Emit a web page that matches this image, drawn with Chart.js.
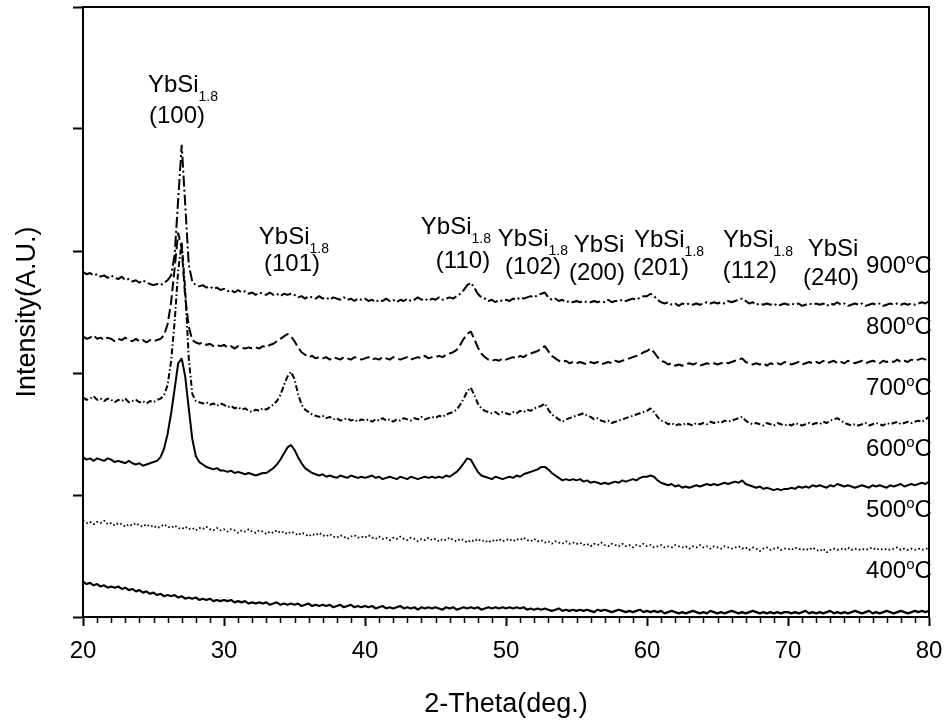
<!DOCTYPE html>
<html>
<head>
<meta charset="utf-8">
<script src="https://cdn.jsdelivr.net/npm/chart.js@4.4.1/dist/chart.umd.min.js"></script>
<style>
  html, body { margin: 0; padding: 0; background: #fff; }
  #xrd { display: block; }
</style>
</head>
<body>
<canvas id="xrd" width="946" height="725"></canvas>
<script>
// 2-theta scan grid, 0.25 deg steps from 20 to 80
const twoTheta = [];
for (let i = 0; i <= 240; i++) twoTheta.push(20 + i * 0.25);

// stacked intensities (arbitrary units, already offset per anneal temperature)
const scan900 = [
  2.83, 2.81, 2.82, 2.80, 2.81, 2.79, 2.80, 2.78, 2.80, 2.78, 2.77, 2.79, 2.76, 2.77, 2.75, 2.76, 2.74, 2.76, 2.74, 2.73,
  2.72, 2.73, 2.72, 2.74, 2.76, 2.80, 2.97, 3.42, 3.87, 3.38, 2.89, 2.75, 2.72, 2.71, 2.72, 2.70, 2.71, 2.69, 2.70, 2.68,
  2.69, 2.67, 2.68, 2.66, 2.68, 2.66, 2.67, 2.65, 2.66, 2.64, 2.66, 2.65, 2.64, 2.66, 2.64, 2.65, 2.63, 2.65, 2.64, 2.65,
  2.64, 2.62, 2.63, 2.61, 2.63, 2.62, 2.61, 2.63, 2.61, 2.62, 2.60, 2.62, 2.61, 2.60, 2.62, 2.60, 2.61, 2.59, 2.61, 2.60,
  2.61, 2.59, 2.60, 2.58, 2.60, 2.59, 2.61, 2.59, 2.60, 2.58, 2.60, 2.59, 2.61, 2.59, 2.60, 2.62, 2.60, 2.61, 2.59, 2.61,
  2.60, 2.62, 2.60, 2.61, 2.62, 2.61, 2.63, 2.65, 2.68, 2.72, 2.74, 2.70, 2.65, 2.62, 2.61, 2.59, 2.60, 2.58, 2.60, 2.59,
  2.60, 2.59, 2.61, 2.60, 2.62, 2.61, 2.62, 2.63, 2.62, 2.64, 2.65, 2.66, 2.62, 2.60, 2.61, 2.59, 2.60, 2.58, 2.59, 2.58,
  2.59, 2.58, 2.59, 2.58, 2.58, 2.59, 2.58, 2.59, 2.58, 2.60, 2.58, 2.59, 2.59, 2.60, 2.59, 2.60, 2.61, 2.60, 2.62, 2.63,
  2.63, 2.65, 2.63, 2.60, 2.58, 2.57, 2.58, 2.56, 2.57, 2.55, 2.57, 2.56, 2.57, 2.56, 2.57, 2.56, 2.57, 2.58, 2.57, 2.58,
  2.57, 2.58, 2.57, 2.59, 2.58, 2.59, 2.60, 2.61, 2.59, 2.57, 2.58, 2.56, 2.57, 2.56, 2.57, 2.56, 2.57, 2.55, 2.56, 2.57,
  2.56, 2.57, 2.56, 2.57, 2.55, 2.56, 2.57, 2.56, 2.57, 2.56, 2.57, 2.55, 2.57, 2.56, 2.58, 2.56, 2.57, 2.55, 2.56, 2.57,
  2.56, 2.57, 2.55, 2.56, 2.57, 2.56, 2.57, 2.55, 2.56, 2.57, 2.56, 2.57, 2.56, 2.57, 2.56, 2.57, 2.56, 2.57, 2.58, 2.57,
  2.59
];
const scan800 = [
  2.30, 2.28, 2.29, 2.31, 2.28, 2.29, 2.27, 2.29, 2.28, 2.26, 2.28, 2.27, 2.29, 2.27, 2.26, 2.28, 2.26, 2.27, 2.25, 2.27,
  2.26, 2.27, 2.28, 2.31, 2.40, 2.58, 2.86, 3.15, 3.02, 2.62, 2.38, 2.27, 2.25, 2.24, 2.25, 2.23, 2.24, 2.22, 2.23, 2.22,
  2.23, 2.21, 2.22, 2.20, 2.22, 2.21, 2.20, 2.21, 2.20, 2.21, 2.20, 2.22, 2.21, 2.23, 2.24, 2.26, 2.28, 2.30, 2.32, 2.30,
  2.26, 2.21, 2.17, 2.15, 2.13, 2.14, 2.12, 2.13, 2.12, 2.13, 2.11, 2.13, 2.12, 2.11, 2.13, 2.12, 2.11, 2.13, 2.12, 2.11,
  2.12, 2.13, 2.11, 2.12, 2.11, 2.13, 2.12, 2.11, 2.13, 2.12, 2.11, 2.12, 2.13, 2.11, 2.12, 2.13, 2.12, 2.14, 2.12, 2.13,
  2.13, 2.14, 2.13, 2.15, 2.16, 2.17, 2.19, 2.23, 2.28, 2.32, 2.34, 2.28, 2.21, 2.16, 2.13, 2.11, 2.10, 2.11, 2.10, 2.12,
  2.11, 2.12, 2.13, 2.12, 2.14, 2.13, 2.15, 2.16, 2.17, 2.18, 2.20, 2.22, 2.18, 2.14, 2.12, 2.10, 2.09, 2.10, 2.08, 2.09,
  2.08, 2.09, 2.08, 2.07, 2.09, 2.08, 2.09, 2.07, 2.08, 2.09, 2.08, 2.10, 2.09, 2.10, 2.11, 2.12, 2.13, 2.14, 2.15, 2.17,
  2.18, 2.20, 2.17, 2.13, 2.10, 2.09, 2.07, 2.08, 2.06, 2.07, 2.06, 2.07, 2.08, 2.07, 2.08, 2.06, 2.07, 2.08, 2.07, 2.08,
  2.07, 2.08, 2.09, 2.08, 2.09, 2.10, 2.11, 2.12, 2.09, 2.08, 2.07, 2.08, 2.07, 2.08, 2.06, 2.08, 2.07, 2.08, 2.07, 2.09,
  2.08, 2.07, 2.08, 2.09, 2.07, 2.08, 2.09, 2.08, 2.09, 2.08, 2.10, 2.08, 2.09, 2.10, 2.08, 2.09, 2.08, 2.10, 2.09, 2.08,
  2.09, 2.10, 2.08, 2.09, 2.10, 2.09, 2.08, 2.10, 2.09, 2.10, 2.09, 2.11, 2.09, 2.10, 2.09, 2.11, 2.10, 2.11, 2.12, 2.11,
  2.14
];
const scan700 = [
  1.80, 1.78, 1.79, 1.81, 1.78, 1.79, 1.77, 1.79, 1.78, 1.76, 1.78, 1.77, 1.79, 1.76, 1.77, 1.78, 1.76, 1.77, 1.75, 1.77,
  1.76, 1.78, 1.79, 1.82, 1.90, 2.10, 2.42, 2.84, 3.07, 2.68, 2.12, 1.83, 1.77, 1.76, 1.75, 1.76, 1.74, 1.75, 1.73, 1.75,
  1.74, 1.72, 1.73, 1.71, 1.72, 1.70, 1.71, 1.69, 1.68, 1.70, 1.69, 1.71, 1.70, 1.72, 1.74, 1.77, 1.82, 1.90, 1.97, 2.01,
  1.95, 1.83, 1.74, 1.70, 1.68, 1.66, 1.65, 1.64, 1.65, 1.63, 1.64, 1.62, 1.63, 1.61, 1.62, 1.63, 1.61, 1.62, 1.60, 1.62,
  1.61, 1.62, 1.60, 1.62, 1.61, 1.63, 1.61, 1.62, 1.60, 1.62, 1.61, 1.63, 1.62, 1.61, 1.63, 1.62, 1.64, 1.62, 1.63, 1.64,
  1.63, 1.65, 1.64, 1.66, 1.67, 1.68, 1.70, 1.74, 1.79, 1.85, 1.88, 1.82, 1.75, 1.71, 1.69, 1.68, 1.67, 1.68, 1.66, 1.68,
  1.67, 1.66, 1.68, 1.67, 1.69, 1.68, 1.70, 1.69, 1.71, 1.72, 1.73, 1.75, 1.70, 1.66, 1.64, 1.62, 1.60, 1.62, 1.63, 1.64,
  1.65, 1.66, 1.67, 1.65, 1.64, 1.62, 1.63, 1.61, 1.60, 1.61, 1.59, 1.60, 1.61, 1.62, 1.63, 1.64, 1.65, 1.66, 1.67, 1.68,
  1.69, 1.71, 1.68, 1.64, 1.61, 1.60, 1.58, 1.59, 1.57, 1.58, 1.57, 1.59, 1.58, 1.57, 1.59, 1.58, 1.59, 1.58, 1.60, 1.59,
  1.60, 1.59, 1.61, 1.60, 1.61, 1.62, 1.63, 1.64, 1.61, 1.59, 1.58, 1.59, 1.58, 1.57, 1.59, 1.58, 1.57, 1.59, 1.58, 1.57,
  1.58, 1.57, 1.59, 1.58, 1.57, 1.58, 1.59, 1.58, 1.59, 1.58, 1.60, 1.59, 1.61, 1.62, 1.63, 1.61, 1.59, 1.58, 1.57, 1.58,
  1.57, 1.58, 1.59, 1.57, 1.58, 1.59, 1.58, 1.57, 1.59, 1.58, 1.59, 1.60, 1.58, 1.59, 1.60, 1.59, 1.60, 1.61, 1.60, 1.62,
  1.64
];
const scan600 = [
  1.31, 1.29, 1.30, 1.28, 1.30, 1.29, 1.28, 1.30, 1.29, 1.27, 1.28, 1.27, 1.26, 1.28, 1.26, 1.25, 1.26, 1.24, 1.25, 1.26,
  1.27, 1.28, 1.31, 1.38, 1.50, 1.67, 1.87, 2.08, 2.12, 1.97, 1.71, 1.46, 1.32, 1.27, 1.25, 1.23, 1.22, 1.21, 1.22, 1.20,
  1.20, 1.19, 1.20, 1.18, 1.19, 1.18, 1.17, 1.18, 1.17, 1.16, 1.17, 1.18, 1.18, 1.20, 1.22, 1.25, 1.29, 1.34, 1.39, 1.41,
  1.37, 1.31, 1.26, 1.22, 1.20, 1.18, 1.17, 1.16, 1.17, 1.15, 1.16, 1.15, 1.14, 1.16, 1.15, 1.14, 1.16, 1.15, 1.14, 1.15,
  1.14, 1.15, 1.16, 1.14, 1.15, 1.13, 1.14, 1.15, 1.14, 1.13, 1.15, 1.14, 1.13, 1.15, 1.14, 1.13, 1.14, 1.15, 1.14, 1.15,
  1.14, 1.15, 1.14, 1.16, 1.15, 1.17, 1.19, 1.22, 1.26, 1.30, 1.29, 1.24, 1.19, 1.16, 1.15, 1.14, 1.13, 1.15, 1.14, 1.13,
  1.14, 1.15, 1.14, 1.16, 1.15, 1.17, 1.18, 1.19, 1.20, 1.21, 1.23, 1.23, 1.21, 1.18, 1.16, 1.14, 1.12, 1.13, 1.12, 1.13,
  1.12, 1.13, 1.11, 1.12, 1.10, 1.11, 1.10, 1.09, 1.10, 1.09, 1.10, 1.11, 1.10, 1.12, 1.11, 1.12, 1.13, 1.12, 1.14, 1.15,
  1.15, 1.16, 1.15, 1.12, 1.10, 1.09, 1.08, 1.09, 1.07, 1.08, 1.06, 1.07, 1.06, 1.07, 1.08, 1.07, 1.08, 1.09, 1.08, 1.09,
  1.08, 1.09, 1.10, 1.09, 1.10, 1.11, 1.10, 1.12, 1.09, 1.08, 1.07, 1.06, 1.07, 1.05, 1.06, 1.05, 1.04, 1.05, 1.04, 1.05,
  1.05, 1.06, 1.05, 1.07, 1.06, 1.07, 1.06, 1.08, 1.07, 1.08, 1.07, 1.06, 1.08, 1.07, 1.09, 1.08, 1.07, 1.08, 1.07, 1.06,
  1.07, 1.08, 1.07, 1.06, 1.08, 1.07, 1.08, 1.07, 1.06, 1.08, 1.07, 1.08, 1.09, 1.07, 1.08, 1.09, 1.08, 1.09, 1.10, 1.09,
  1.11
];
const scan500 = [
  0.79, 0.77, 0.78, 0.76, 0.78, 0.77, 0.79, 0.76, 0.77, 0.75, 0.77, 0.76, 0.74, 0.76, 0.75, 0.77, 0.75, 0.74, 0.76, 0.74,
  0.75, 0.73, 0.74, 0.76, 0.74, 0.73, 0.75, 0.73, 0.72, 0.74, 0.72, 0.73, 0.71, 0.73, 0.72, 0.74, 0.72, 0.71, 0.73, 0.71,
  0.72, 0.70, 0.72, 0.71, 0.69, 0.71, 0.70, 0.72, 0.70, 0.69, 0.71, 0.70, 0.68, 0.70, 0.69, 0.71, 0.69, 0.70, 0.68, 0.70,
  0.69, 0.67, 0.69, 0.68, 0.66, 0.68, 0.67, 0.69, 0.67, 0.66, 0.68, 0.66, 0.65, 0.67, 0.66, 0.64, 0.66, 0.67, 0.65, 0.66,
  0.65, 0.67, 0.65, 0.64, 0.66, 0.64, 0.65, 0.63, 0.65, 0.64, 0.66, 0.64, 0.63, 0.65, 0.64, 0.62, 0.64, 0.63, 0.65, 0.63,
  0.64, 0.62, 0.64, 0.63, 0.65, 0.63, 0.62, 0.64, 0.63, 0.61, 0.63, 0.62, 0.64, 0.62, 0.63, 0.61, 0.63, 0.62, 0.64, 0.62,
  0.63, 0.64, 0.62, 0.64, 0.63, 0.65, 0.63, 0.62, 0.64, 0.62, 0.63, 0.61, 0.62, 0.60, 0.62, 0.61, 0.60, 0.62, 0.60, 0.61,
  0.60, 0.61, 0.59, 0.60, 0.58, 0.60, 0.59, 0.61, 0.59, 0.58, 0.60, 0.59, 0.58, 0.60, 0.58, 0.59, 0.57, 0.59, 0.58, 0.60,
  0.58, 0.59, 0.57, 0.58, 0.59, 0.57, 0.58, 0.57, 0.59, 0.58, 0.57, 0.58, 0.56, 0.58, 0.57, 0.59, 0.57, 0.58, 0.56, 0.58,
  0.57, 0.56, 0.58, 0.57, 0.56, 0.57, 0.58, 0.56, 0.57, 0.55, 0.57, 0.56, 0.54, 0.56, 0.57, 0.55, 0.56, 0.57, 0.55, 0.56,
  0.56, 0.55, 0.57, 0.56, 0.55, 0.56, 0.55, 0.57, 0.55, 0.54, 0.56, 0.53, 0.55, 0.56, 0.55, 0.56, 0.55, 0.57, 0.55, 0.56,
  0.55, 0.56, 0.55, 0.56, 0.57, 0.55, 0.56, 0.55, 0.56, 0.55, 0.56, 0.57, 0.55, 0.56, 0.55, 0.56, 0.55, 0.56, 0.55, 0.56,
  0.56
];
const scan400 = [
  0.29, 0.27, 0.28, 0.26, 0.27, 0.25, 0.26, 0.24, 0.25, 0.24, 0.25, 0.23, 0.24, 0.22, 0.23, 0.21, 0.22, 0.20, 0.21, 0.19,
  0.20, 0.18, 0.19, 0.17, 0.18, 0.17, 0.18, 0.16, 0.17, 0.15, 0.16, 0.15, 0.16, 0.14, 0.15, 0.14, 0.15, 0.13, 0.14, 0.13,
  0.14, 0.13, 0.14, 0.12, 0.13, 0.12, 0.13, 0.11, 0.12, 0.11, 0.12, 0.11, 0.12, 0.10, 0.11, 0.12, 0.10, 0.11, 0.10, 0.11,
  0.10, 0.11, 0.09, 0.10, 0.11, 0.09, 0.10, 0.09, 0.10, 0.09, 0.10, 0.08, 0.09, 0.10, 0.08, 0.09, 0.10, 0.08, 0.09, 0.08,
  0.09, 0.08, 0.09, 0.07, 0.08, 0.09, 0.07, 0.08, 0.07, 0.08, 0.09, 0.07, 0.08, 0.07, 0.08, 0.06, 0.08, 0.07, 0.08, 0.07,
  0.08, 0.07, 0.06, 0.08, 0.07, 0.08, 0.06, 0.07, 0.08, 0.07, 0.08, 0.07, 0.08, 0.06, 0.07, 0.08, 0.07, 0.08, 0.07, 0.08,
  0.07, 0.08, 0.07, 0.08, 0.07, 0.08, 0.06, 0.07, 0.06, 0.07, 0.06, 0.07, 0.06, 0.05, 0.06, 0.07, 0.05, 0.06, 0.05, 0.06,
  0.05, 0.06, 0.05, 0.06, 0.05, 0.04, 0.06, 0.05, 0.06, 0.05, 0.04, 0.05, 0.06, 0.05, 0.04, 0.05, 0.04, 0.05, 0.06, 0.04,
  0.05, 0.04, 0.05, 0.04, 0.05, 0.03, 0.04, 0.05, 0.04, 0.03, 0.04, 0.03, 0.04, 0.05, 0.04, 0.03, 0.04, 0.03, 0.05, 0.04,
  0.03, 0.04, 0.03, 0.04, 0.05, 0.04, 0.03, 0.04, 0.03, 0.04, 0.05, 0.04, 0.03, 0.04, 0.03, 0.04, 0.03, 0.04, 0.03, 0.04,
  0.04, 0.03, 0.04, 0.03, 0.04, 0.05, 0.03, 0.04, 0.03, 0.04, 0.03, 0.04, 0.05, 0.03, 0.04, 0.03, 0.04, 0.03, 0.04, 0.05,
  0.04, 0.03, 0.04, 0.05, 0.03, 0.04, 0.03, 0.04, 0.05, 0.04, 0.03, 0.04, 0.05, 0.04, 0.03, 0.04, 0.05, 0.04, 0.05, 0.04,
  0.05
];

const temperatures = ['900', '800', '700', '600', '500', '400'];

// reflection labels: phase, subscript, Miller indices
const peakPhase = ['YbSi', 'YbSi', 'YbSi', 'YbSi', 'YbSi', 'YbSi', 'YbSi', 'YbSi'];
const peakSub = ['1.8', '1.8', '1.8', '1.8', '', '1.8', '1.8', ''];
const peakHkl = ['(100)', '(101)', '(110)', '(102)', '(200)', '(201)', '(112)', '(240)'];

// where the labels sit, in axis units (line 1 = phase, line 2 = hkl)
const peakLabelAt = [
  { x1: 27.09, y1: 4.34, x2: 26.67, y2: 4.07 },
  { x1: 34.96, y1: 3.09, x2: 34.82, y2: 2.86 },
  { x1: 46.45, y1: 3.17, x2: 46.95, y2: 2.885 },
  { x1: 51.91, y1: 3.074, x2: 51.91, y2: 2.836 },
  { x1: 56.6, y1: 3.025, x2: 56.45, y2: 2.787 },
  { x1: 61.56, y1: 3.066, x2: 60.99, y2: 2.828 },
  { x1: 67.87, y1: 3.066, x2: 67.3, y2: 2.803 },
  { x1: 73.19, y1: 2.992, x2: 73.05, y2: 2.746 }
];
const tempLabelAt = [2.88, 2.38, 1.88, 1.38, 0.88, 0.38];

const FONT = 'Liberation Sans, Arial, Helvetica, sans-serif';

const toPoints = (ys) => ys.map((y, i) => ({ x: twoTheta[i], y: y }));

const lineStyles = [
  { dash: [11, 3, 2, 3], width: 2 },
  { dash: [10, 4], width: 2 },
  { dash: [6, 2.5, 1.5, 2.5], width: 2 },
  { dash: [], width: 2 },
  { dash: [1.6, 2.4], width: 1.8 },
  { dash: [], width: 2.2 }
];
const scans = [scan900, scan800, scan700, scan600, scan500, scan400];

// draw text pieces side by side; each piece has its own size and baseline shift
function drawPieces(ctx, pieces, x, baseline, align) {
  let total = 0;
  pieces.forEach(p => {
    ctx.font = p.size + 'px ' + FONT;
    p.w = ctx.measureText(p.text).width;
    total += p.w;
  });
  let cx = align === 'right' ? x - total : x - total / 2;
  pieces.forEach(p => {
    ctx.font = p.size + 'px ' + FONT;
    ctx.fillText(p.text, cx, baseline + (p.dy || 0));
    cx += p.w;
  });
}

const annotations = {
  id: 'annotations',
  afterDraw(chart) {
    const { ctx, chartArea, scales: { x, y } } = chart;
    ctx.save();

    // top and right frame lines
    ctx.strokeStyle = '#000';
    ctx.lineWidth = 2;
    ctx.beginPath();
    ctx.moveTo(chartArea.left, chartArea.top);
    ctx.lineTo(chartArea.right, chartArea.top);
    ctx.lineTo(chartArea.right, chartArea.bottom);
    ctx.stroke();

    // minor ticks every degree
    ctx.lineWidth = 1.5;
    ctx.beginPath();
    for (let v = 21; v < 80; v++) {
      if (v % 10 === 0) continue;
      const px = Math.round(x.getPixelForValue(v)) + 0.5;
      ctx.moveTo(px, chartArea.bottom);
      ctx.lineTo(px, chartArea.bottom + 6);
    }
    ctx.stroke();

    ctx.fillStyle = '#000';
    ctx.textBaseline = 'alphabetic';

    // reflection labels
    peakPhase.forEach((phase, i) => {
      const at = peakLabelAt[i];
      const pieces = [{ text: phase, size: 24 }];
      if (peakSub[i]) pieces.push({ text: peakSub[i], size: 14, dy: 9 });
      drawPieces(ctx, pieces, x.getPixelForValue(at.x1), y.getPixelForValue(at.y1) + 4, 'center');
      drawPieces(ctx, [{ text: peakHkl[i], size: 24 }], x.getPixelForValue(at.x2), y.getPixelForValue(at.y2) + 3, 'center');
    });

    // anneal temperature labels
    temperatures.forEach((t, i) => {
      drawPieces(ctx, [
        { text: t, size: 24 },
        { text: 'o', size: 15, dy: -9 },
        { text: 'C', size: 24 }
      ], x.getPixelForValue(80.2), y.getPixelForValue(tempLabelAt[i]) + 7, 'right');
    });

    ctx.restore();
  }
};

new Chart(document.getElementById('xrd'), {
  type: 'line',
  data: {
    datasets: scans.map((s, i) => ({
      label: temperatures[i] + ' C',
      data: toPoints(s),
      borderColor: '#000',
      borderWidth: lineStyles[i].width,
      borderDash: lineStyles[i].dash,
      borderJoinStyle: 'bevel',
      pointRadius: 0,
      tension: 0,
      fill: false
    }))
  },
  options: {
    responsive: false,
    animation: false,
    devicePixelRatio: 1,
    layout: { padding: { top: 7, right: 17, left: 0, bottom: 0 } },
    plugins: {
      legend: { display: false },
      tooltip: { enabled: false }
    },
    scales: {
      x: {
        type: 'linear',
        min: 20,
        max: 80,
        ticks: {
          stepSize: 10,
          color: '#000',
          font: { family: FONT, size: 24 },
          padding: 11,
          maxRotation: 0
        },
        grid: {
          display: true,
          drawOnChartArea: false,
          drawTicks: true,
          tickLength: 9,
          tickWidth: 2,
          tickColor: '#000'
        },
        border: { display: true, color: '#000', width: 2 },
        title: {
          display: true,
          text: '2-Theta(deg.)',
          color: '#000',
          font: { family: FONT, size: 27 },
          padding: { top: 0, bottom: 4 }
        },
        afterFit: (scale) => {
          scale.height = 108;
          // let the end labels hang over the edges instead of shrinking the plot
          scale.paddingLeft = 0;
          scale.paddingRight = 0;
        }
      },
      y: {
        min: 0,
        max: 5,
        ticks: { stepSize: 1, display: false },
        grid: {
          display: true,
          drawOnChartArea: false,
          drawTicks: true,
          tickLength: 10,
          tickWidth: 2,
          tickColor: '#000'
        },
        border: { display: true, color: '#000', width: 2 },
        title: {
          display: true,
          text: 'Intensity(A.U.)',
          color: '#000',
          font: { family: FONT, size: 27 },
          padding: { top: 11, bottom: 0 }
        },
        afterFit: (scale) => {
          scale.width = 83;
          scale.paddingTop = 0;
          scale.paddingBottom = 0;
        }
      }
    }
  },
  plugins: [annotations]
});
</script>
</body>
</html>
